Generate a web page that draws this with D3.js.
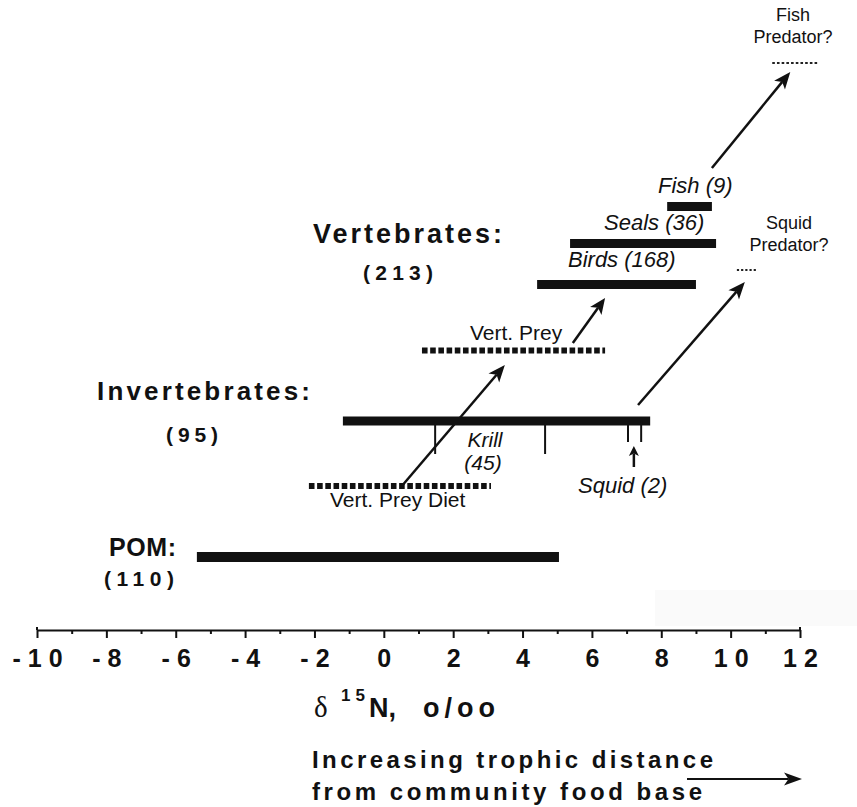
<!DOCTYPE html>
<html>
<head>
<meta charset="utf-8">
<script src="https://cdn.jsdelivr.net/npm/d3@7"></script>
<style>
  html, body { margin: 0; padding: 0; background: #fff; }
  svg { display: block; }
  text { font-family: "Liberation Sans", Arial, Helvetica, sans-serif; fill: #111; }
</style>
</head>
<body>
<svg id="chart" width="857" height="807"></svg>
<script>
// ---------------- DATA ----------------
const xDomain = [-10, 12];
const majorTicks = [-10, -8, -6, -4, -2, 0, 2, 4, 6, 8, 10, 12];
const minorTicks = [-9, -7, -5, -3, -1, 1, 3, 5, 7, 9, 11];

const groupNames = ["Vertebrates:", "Invertebrates:", "POM:"];
const groupCounts = ["(213)", "(95)", "(110)"];

const barNames = ["Fish", "Seals", "Birds", "Vert. Prey", "Invertebrates", "Vert. Prey Diet", "POM"];
const barMin   = [8.17, 5.37, 4.42, 1.10, -1.18, -2.16, -5.39];
const barMax   = [9.46, 9.58, 9.00, 6.38, 7.68, 3.09, 5.05];
const barEstimated = [false, false, false, true, false, true, false];

const taxonLabels = ["Fish (9)", "Seals (36)", "Birds (168)", "Squid (2)"];
const krillRange = [1.48, 4.65];
const squidRange = [7.04, 7.42];

const predatorNames = ["Fish", "Squid"];
const predatorMin = [11.20, 10.18];
const predatorMax = [12.52, 10.76];

const arrowFromX = [0.52, 5.45, 7.33, 9.46, 7.21];
const arrowToX   = [3.49, 6.38, 10.41, 11.72, 7.21];

// ---------------- LAYOUT ----------------
const svg = d3.select("#chart");
const x = d3.scaleLinear().domain(xDomain).range([37, 800]);
const axisY = 630;

const rowY = d3.scaleOrdinal()
  .domain(barNames)
  .range([206.5, 243.5, 284.5, 350.5, 421, 486, 557]);
const barThick = [9, 9, 9, 6, 9, 6, 10];

// faint scan patch
svg.append("rect").attr("x", 655).attr("y", 590).attr("width", 202).attr("height", 36)
  .attr("fill", "#fafafa");

// ---------------- AXIS ----------------
const gAxis = svg.append("g").attr("transform", `translate(0,${axisY})`);
const axisMajor = d3.axisBottom(x).tickValues(majorTicks).tickSize(8).tickSizeOuter(0)
  .tickPadding(11)
  .tickFormat(d => d < 0 ? "-" + Math.abs(d) : String(d));
gAxis.call(axisMajor);
gAxis.select(".domain").attr("stroke", "#111").attr("stroke-width", 2.2);
gAxis.selectAll(".tick line").attr("stroke", "#111").attr("stroke-width", 2);
gAxis.selectAll(".tick text")
  .style("font-family", "'Liberation Sans', Arial, sans-serif")
  .style("font-size", "25px").style("font-weight", "bold")
  .style("letter-spacing", "7px").attr("dx", 3.5).attr("fill", "#111");
svg.selectAll(".endtick").data([xDomain[0], xDomain[1]]).join("line")
  .attr("x1", d => x(d)).attr("x2", d => x(d))
  .attr("y1", axisY - 3).attr("y2", axisY).attr("stroke", "#111").attr("stroke-width", 2);

const gMinor = svg.append("g").attr("transform", `translate(0,${axisY})`);
gMinor.call(d3.axisBottom(x).tickValues(minorTicks).tickSize(4).tickFormat(""));
gMinor.select(".domain").remove();
gMinor.selectAll(".tick line").attr("stroke", "#111").attr("stroke-width", 2);

// axis title: δ15N, o/oo
svg.append("text").attr("x", 314).attr("y", 717)
  .style("font-family", "'Liberation Serif', 'DejaVu Serif', serif")
  .style("font-size", "29px").text("δ");
svg.append("text").attr("x", 341).attr("y", 701)
  .style("font-size", "17px").style("font-weight", "bold")
  .attr("textLength", 24).attr("lengthAdjust", "spacing").text("15");
svg.append("text").attr("x", 369).attr("y", 717)
  .style("font-size", "27px").style("font-weight", "bold").text("N,");
svg.append("text").attr("x", 423).attr("y", 717)
  .style("font-size", "27px").style("font-weight", "bold")
  .attr("textLength", 72).attr("lengthAdjust", "spacing").text("o/oo");

// bottom caption
svg.append("text").attr("x", 312).attr("y", 768)
  .style("font-size", "24px").style("font-weight", "bold")
  .attr("textLength", 401).attr("lengthAdjust", "spacing").text("Increasing trophic distance");
svg.append("text").attr("x", 312).attr("y", 800)
  .style("font-size", "24px").style("font-weight", "bold")
  .attr("textLength", 390).attr("lengthAdjust", "spacing").text("from community food base");

// arrow helper
function drawArrow(x1, y1, x2, y2, len, hw, sw) {
  const a = Math.atan2(y2 - y1, x2 - x1);
  const c = Math.cos(a), s = Math.sin(a);
  const bx = x2 - len * c, by = y2 - len * s;
  const nx = x2 - len * 0.75 * c, ny = y2 - len * 0.75 * s;
  svg.append("line").attr("x1", x1).attr("y1", y1).attr("x2", nx).attr("y2", ny)
    .attr("stroke", "#111").attr("stroke-width", sw);
  svg.append("polygon")
    .attr("points", [[x2, y2], [bx - hw * s, by + hw * c], [nx, ny], [bx + hw * s, by - hw * c]].map(p => p.join(",")).join(" "))
    .attr("fill", "#111");
}
drawArrow(687, 779, 802, 779, 18, 6.5, 2.2);

// ---------------- BARS ----------------
barNames.forEach((name, i) => {
  const y = rowY(name);
  if (barEstimated[i]) {
    svg.append("line").attr("x1", x(barMin[i])).attr("x2", x(barMax[i]))
      .attr("y1", y).attr("y2", y)
      .attr("stroke", "#111").attr("stroke-width", barThick[i])
      .attr("stroke-dasharray", "5.6,2.6");
  } else {
    svg.append("rect").attr("x", x(barMin[i])).attr("y", y - barThick[i] / 2)
      .attr("width", x(barMax[i]) - x(barMin[i])).attr("height", barThick[i])
      .attr("fill", "#111");
  }
});

// krill and squid range ticks on invertebrate bar
const invY = rowY("Invertebrates");
krillRange.forEach(v => {
  svg.append("line").attr("x1", x(v)).attr("x2", x(v)).attr("y1", invY).attr("y2", invY + 33)
    .attr("stroke", "#111").attr("stroke-width", 2);
});
squidRange.forEach(v => {
  svg.append("line").attr("x1", x(v)).attr("x2", x(v)).attr("y1", invY).attr("y2", invY + 21)
    .attr("stroke", "#111").attr("stroke-width", 2);
});

// predator dotted marks
const predY = [63, 270];
const predDash = ["2.6,2.1", "2.2,2.0"];
predatorNames.forEach((n, i) => {
  svg.append("line").attr("x1", x(predatorMin[i])).attr("x2", x(predatorMax[i]))
    .attr("y1", predY[i]).attr("y2", predY[i])
    .attr("stroke", "#222").attr("stroke-width", 2).attr("stroke-dasharray", predDash[i]);
});

// arrows
const arrowY = [[486, 365], [343, 298], [405, 282], [168, 72], [467, 446]];
const arrowHead = [[17, 7], [16, 7], [17, 7], [17, 7], [10, 5]];
arrowFromX.forEach((v, i) => {
  drawArrow(x(v), arrowY[i][0], x(arrowToX[i]), arrowY[i][1], arrowHead[i][0], arrowHead[i][1], 2.5);
});

// ---------------- LABELS ----------------
const groupPos = [
  { x: 313, y: 243, w: 189, fs: 27, cx: 363, cy: 280, cw: 70 },
  { x: 97, y: 400, w: 213, fs: 26, cx: 166, cy: 442, cw: 52 },
  { x: 109, y: 556, w: 67, fs: 25, cx: 104, cy: 586, cw: 70 }
];
groupNames.forEach((n, i) => {
  const p = groupPos[i];
  svg.append("text").attr("x", p.x).attr("y", p.y)
    .style("font-size", p.fs + "px").style("font-weight", "bold")
    .attr("textLength", p.w).attr("lengthAdjust", "spacing").text(n);
  svg.append("text").attr("x", p.cx).attr("y", p.cy)
    .style("font-size", "21px").style("font-weight", "bold")
    .attr("textLength", p.cw).attr("lengthAdjust", "spacing").text(groupCounts[i]);
});

// italic taxon labels
const taxonPos = [[658, 193], [604, 230], [568, 267], [578, 493]];
taxonLabels.forEach((t, i) => {
  svg.append("text").attr("x", taxonPos[i][0]).attr("y", taxonPos[i][1])
    .style("font-size", "22px").style("font-style", "italic").text(t);
});
svg.append("text").attr("x", 485).attr("y", 447).attr("text-anchor", "middle")
  .style("font-size", "21px").style("font-style", "italic").text("Krill");
svg.append("text").attr("x", 483).attr("y", 470).attr("text-anchor", "middle")
  .style("font-size", "21px").style("font-style", "italic").text("(45)");

// estimated-diet labels
svg.append("text").attr("x", 470).attr("y", 340)
  .style("font-size", "21px").text("Vert. Prey");
svg.append("text").attr("x", 330).attr("y", 507)
  .style("font-size", "21px").text("Vert. Prey Diet");

// predator labels
const predLabelPos = [[793, 21], [789, 229]];
predatorNames.forEach((n, i) => {
  const t = svg.append("text").attr("text-anchor", "middle").style("font-size", "18px");
  t.append("tspan").attr("x", predLabelPos[i][0]).attr("y", predLabelPos[i][1]).text(n);
  t.append("tspan").attr("x", predLabelPos[i][0]).attr("y", predLabelPos[i][1] + 22).text("Predator?");
});
</script>
</body>
</html>
